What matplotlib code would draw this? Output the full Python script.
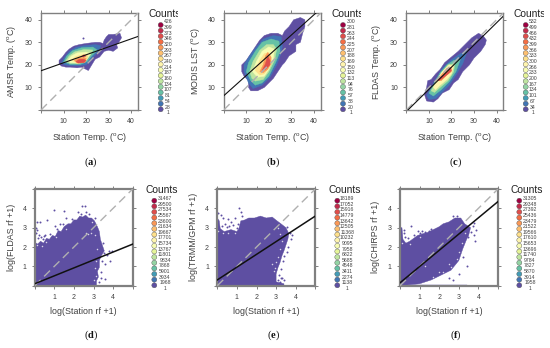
import numpy as np
import matplotlib
matplotlib.use('Agg')
import matplotlib.pyplot as plt
from matplotlib.transforms import Bbox

plt.rcParams['font.family'] = ['Liberation Sans', 'DejaVu Sans']
plt.rcParams['mathtext.fontset'] = 'custom'
plt.rcParams['mathtext.rm'] = 'Liberation Sans'
plt.rcParams['mathtext.bf'] = 'Liberation Serif:bold'

W, H = 550, 348
colors = plt.get_cmap('Spectral_r')(np.linspace(0, 1, 16))
grey = '#808080'
txt = '#404040'

# legend labels, top to bottom
counts_a = [426,399,373,346,320,293,267,240,214,187,160,134,107,81,54,28,1]
counts_b = [300,281,263,244,225,207,188,169,150,132,113,94,76,57,38,20,1]
counts_c = [532,499,466,432,399,366,333,300,266,233,200,167,134,101,67,34,1]
counts_d = [31467,29500,27534,25567,23600,21634,19667,17701,15734,13767,11801,9834,7868,5901,3934,1968,1]
counts_e = [18189,17052,15916,14779,13642,12505,11368,10232,9095,7958,6822,5685,4548,3411,2274,1138,1]
counts_f = [31305,29348,27392,25436,23479,21522,19566,17610,15653,13696,11740,9784,7827,5870,3914,1958,1]

# density outlines, outer level first: (colour level, outline)
cloud_a = [
    (0, [(8,20.5),(8,22),(9.5,23.5),(11,25.5),(12.5,27),(14.5,28.3),(17,29),(20,29.5),(24,30),(26,30),(27.5,29.5),(28,31),(29,32.5),(30,33.5),(32,33.5),(35,34),(35.7,32),(34.5,30),(33.5,29),(34,27.5),(32,26),(30,26.5),(28,26),(26,23.5),(24,22.5),(22.5,20),(21,17.5),(20,18),(18,19),(16,18.7),(13,19),(11,19),(9,19.5)]),
    (1, [(9,21),(10.5,23.5),(12.5,26),(15.5,27.8),(19,28.5),(24,29),(26.5,28.5),(25.5,26),(23.5,23.8),(21.5,21.5),(20,20),(17,19.7),(13,19.7),(10.5,20)]),
    (3, [(10,21.3),(11.5,24),(14,26.3),(18,27.6),(23,27.9),(25,26.5),(22.5,24),(20.5,21.5),(17.5,20.2),(13,20.2)]),
    (5, [(10.8,21.6),(12.5,24),(15,25.8),(19,26.8),(23,26.6),(22,24.5),(20,22),(17,20.6),(13,20.6)]),
    (7, [(11.8,22),(13.5,24),(16,25.3),(20,25.7),(22,25),(21,23.5),(19.5,21.7),(16.5,20.8),(13,21)]),
    (9, [(13.5,22.2),(15.5,23.7),(18,24.4),(20.5,24.7),(20.8,23),(19.3,21.2),(16,20.7)]),
    (11, [(14.8,22),(16.5,23),(18,23.3),(20,23),(19.5,21.2),(16,20.8)]),
    (13, [(15.5,21.5),(17,22.5),(19,22.5),(20,22),(19,21),(16.5,20.8)]),
    (13, [(18,23.8),(19,24.5),(20,24),(19,23.4)]),
]
cloud_b = [
    (0, [(8,17),(8,20),(10,22),(12,25),(14,28),(16,31),(18,33),(21,34),(24,34),(26,33),(27,35),(29,37),(31,40),(34,41),(36,40),(36,37),(35,34),(34,30),(32,29),(32,26),(29,24),(27,21),(26,20),(24,17),(22,14),(20,12),(18,10),(15,8.5),(12,8.5),(11,10),(11,13),(9,15)]),
    (1, [(9,17),(9,20),(11.5,24),(14.5,28),(17.5,31.5),(22,33),(25.5,32.5),(26,28),(25,24),(23.5,20),(20.5,14.5),(17,11),(13,9.5),(11,12)]),
    (3, [(10,17),(11,21),(14,26),(17,30),(21,31.5),(24.5,30.5),(25,26),(23,21),(20,15),(17,12),(14,11),(12,13)]),
    (5, [(11.5,17),(13,21.5),(16,26.5),(19,29),(22,29),(23.5,27),(22.5,22),(20,17),(17.5,13.5),(14,12.8),(12.5,14)]),
    (7, [(12.8,17),(14.5,21.5),(17,26),(20,28),(22.5,27),(22,23),(20,18),(18,15),(15,14.5)]),
    (9, [(14,17.5),(16,22),(18,25),(20,25.5),(21,23),(20,19),(18,16),(16,15.5)]),
    (11, [(16,17),(17.5,20),(18.5,24),(19.5,25.5),(21,23.5),(21,20.5),(19.5,18),(17.5,16.5)]),
    (13, [(17,17.5),(18.5,20.5),(19.5,24),(20.5,22),(20.5,20),(18.5,18)]),
]
cloud_c = [
    (0, [(8,7),(9,4),(12,3.5),(14,5),(16,7.5),(19,9),(21,12),(23,13.5),(25,17),(28,20),(30,23),(33,26),(35,29),(35.5,31),(34,33),(32,34),(29,32),(26,29),(23,26),(20,23.5),(17,21),(15,18),(13,16),(11,13.5),(9.5,13),(9,10)]),
    (1, [(9,6.5),(11,10),(13.5,14.5),(16,18.5),(19.5,22),(24,25),(27,26),(25,20.5),(22,15.5),(19,11),(16,8),(13,5),(10,4.7)]),
    (3, [(10,7.5),(12.5,12),(15,16.5),(18,20),(21,22),(24,22.5),(22,17),(19,12.5),(15.5,9),(12,6.2)]),
    (5, [(11,8.5),(13.5,13),(15.5,16.5),(18.5,20),(21.5,20.7),(21,17),(18.5,13),(15,10),(12.5,7.8)]),
    (8, [(12,10),(14,14),(16,17),(19,20),(21,19.5),(20,16),(18,13.5),(15,11),(13,9)]),
    (11, [(13.5,13),(15.5,15.5),(18,18.5),(20,19),(20,17),(18,15.5),(15.5,13)]),
    (13, [(14,13.5),(15.5,14.8),(17,15.8),(18.5,17),(19.5,18.8),(20,17.5),(18.5,16),(16,14),(14.5,13)]),
]
cloud_d = [(0, [(0,0),(0,2.25),(0.15,2.15),(0.3,2.3),(0.45,2.2),(0.6,2.45),(0.75,2.4),(0.9,2.6),(1.05,2.55),(1.2,2.85),(1.35,2.8),(1.5,3.05),(1.7,3.2),(1.85,3.2),(2,3.4),(2.15,3.4),(2.3,3.6),(2.45,3.55),(2.6,3.65),(2.75,3.5),(2.9,3.5),(3.05,3.35),(3.2,3.05),(3.3,2.8),(3.35,2.4),(3.45,2.1),(3.55,1.8),(3.4,1.55),(3.3,1.3),(3.3,0.95),(3.2,0.75),(3.25,0.45),(3.15,0.25),(3.15,0)])]
cloud_e = [(0, [(0,0),(0,3.5),(0.1,3.35),(0.15,2.95),(0.35,2.8),(0.7,2.9),(1,2.8),(1.1,2.95),(1.2,3.35),(1.4,3.4),(1.6,3.5),(1.9,3.5),(2.2,3.6),(2.5,3.5),(2.8,3.55),(3.05,3.35),(3.25,3.2),(3.5,3),(3.65,2.7),(3.6,2.4),(3.5,2.1),(3.4,1.8),(3.3,1.55),(3.2,1.2),(3.1,0.95),(3,0.6),(3,0.2),(3.4,0.1),(3.4,0)])]
cloud_f = [(0, [(0,0),(0,3),(0.1,3),(0.15,2.4),(0.3,2.2),(0.5,2.3),(0.7,2.45),(0.9,2.6),(1.2,2.7),(1.4,2.75),(1.7,2.9),(2,3.05),(2.2,3.2),(2.5,3.3),(2.8,3.5),(3.1,3.5),(3.3,3.2),(3.6,3),(3.5,2.6),(3.4,2.4),(3.2,1.9),(3,1.3),(2.8,1.05),(2.6,0.8),(2.3,0.65),(2,0.5),(1.6,0.3),(1,0.1),(0.5,0.05)]),
           (0, [(0,0),(3.4,0),(3.4,0.02),(0,0.02)])]

# isolated points outside the main body
stray_a = [(18.5,32)]
stray_b = []
stray_c = []
stray_d = [(0.05,3),(0.1,3.3),(0.25,3.3),(0.1,2.9),(0.05,2.7),(0.2,2.6),(0.3,2.5),(0.15,2.45),(0.4,2.4),(0.45,2.55),(0.55,2.6),(0.65,3.4),(0.8,2.65),(1,3.9),(1.5,3.85),(1.05,3.1),(1.3,3.2),(1.6,3.5),(1.15,2.95),(1.45,3.2),(1.9,3.45),(2.4,4.1),(2.55,4.1),(2.2,3.8),(2.35,3.7),(2.6,3.8),(2.75,3.7),(3.1,3.5),(3.55,1.7),(3.8,1.8),(3.95,1.8),(3.7,1.6),(3.85,1.3),(3.6,1.1),(3.4,0.7),(3.6,0.35),(3.3,0.2),(3.4,0.4),(3.45,1.3),(3.5,2.2)]
stray_e = [(0.05,3.75),(0.2,3.65),(0.3,3.5),(0.4,3.2),(0.25,3.1),(0.55,3.45),(0.7,3.3),(0.6,3.1),(0.9,3.5),(0.8,3.15),(1.1,4),(1.2,3.8),(1.25,3.6),(0.5,3.05),(1,3),(1.05,3.2),(3.75,2.4),(3.8,2.6),(3.6,2),(3.55,1.75),(3.3,0.4),(3.4,0.3),(3.1,0.3),(3.2,0.2),(3.25,0.4),(3.35,1.3),(3.15,0.55),(3.25,0.85),(3.4,1.55),(3.7,2.75),(3.55,3.05)]
stray_f = [(0.18,2.9),(0.2,2.7),(0.25,2.5),(0.55,3.1),(0.9,2.85),(1.1,2.85),(1.3,2.8),(1.5,2.85),(0.4,2.45),(0.7,2.6),(1,2.75),(1.6,2.95),(2.7,3.6),(2.9,3.6),(3.7,3.1),(3.8,3.25),(3.9,2.9),(3.75,2.6),(3.85,2.3),(3.45,2.5),(3.2,1.5),(3.4,1),(3,0.6),(2.7,0.3),(2.5,0.4),(3.6,2.8)]

# white gaps inside the body near its edge
specks_d = [(0.1,2.1),(0.35,2.05),(0.6,2.25),(1.1,2.5),(1.6,2.95),(2.6,2.75),(2.7,2.65),(2.85,2.7),(3.1,2.6),(3.2,1.9),(3.15,1.3),(3.1,0.9),(3.15,0.5),(3.05,0.3),(2.9,3.3)]
specks_e = [(0.05,2.85),(0.3,2.7),(0.55,2.75),(0.9,2.75),(3.1,3),(3.3,2.3),(3.2,1.9),(3.1,1.5),(3,1.2),(2.95,0.9),(2.9,0.75),(3.2,2.65),(2.8,1.1)]
specks_f = [(0.1,2.2),(0.5,2.15),(1,2.5),(1.3,1),(1.7,0.45),(2.2,0.7),(2.6,0.95),(2.9,1.4),(3,1.75),(3.15,2.2),(3.3,2.7),(2.5,1.1),(2,0.7)]
specks_a = []
specks_b = []
specks_c = []

# fit lines (x, y)
fit_a = ([0,43], [17.4,32.6])
fit_b = ([0,43], [6.3,44.9])
fit_c = ([0,43], [-0.7,41.6])
fit_d = ([0,5], [0.1,2.15])
fit_e = ([0,5], [0.3,3.6])
fit_f = ([0,5], [0.15,4.35])

temp_ticks = [0,10,20,30,40]
temp_ticklabels = ['','10','20','30','40']
log_ticks = [0,1,2,3,4,5]
log_ticklabels = ['','1','2','3','4','']
temp_x = r'Station Temp. ($^{\mathrm{o}}$C)'
log_x = 'log(Station rf +1)'

fig = plt.figure(figsize=(W/100, H/100), dpi=100)
key = fig.add_axes([0, 0, 1, 1])
key.set_xlim(0, W)
key.set_ylim(H, 0)
key.axis('off')

def panel(x0, y0, w, h, lim, cloud, stray, specks, fit, ticks, ticklabels, xlabel, ylabel, ylab_off, xlab_off, lw_box, lw_fit):
    ax = fig.add_axes([x0/W, 1-(y0+h)/H, w/W, h/H])
    for lev, poly in cloud:
        pts = np.array(poly)
        ax.fill(pts[:,0], pts[:,1], color=colors[lev], lw=0.3, zorder=lev+1)
    if stray:
        pts = np.array(stray)
        ax.scatter(pts[:,0], pts[:,1], s=2, color=colors[0], lw=0, zorder=1)
    if specks:
        pts = np.array(specks)
        ax.scatter(pts[:,0], pts[:,1], s=1.2, color='#d8d4e8', lw=0, zorder=2)
    ax.plot([0,lim], [0,lim], color='#b0b0b0', lw=1, dashes=(6,3.5), zorder=30)
    ax.plot(fit[0], fit[1], color='#111111', lw=lw_fit, zorder=31)
    ax.set_xlim(0, lim)
    ax.set_ylim(0, lim)
    ax.set_xticks(ticks)
    ax.set_yticks(ticks)
    ax.set_xticklabels(ticklabels)
    ax.set_yticklabels(ticklabels)
    ax.tick_params(top=True, right=True, length=2.5, width=0.7, color=grey, labelcolor=txt, labelsize=5, pad=3.5)
    for s in ax.spines.values():
        s.set_color(grey)
        s.set_linewidth(lw_box)
    ax.set_xlabel(xlabel, fontsize=6.4, color=txt, va='center')
    ax.set_ylabel(ylabel, fontsize=6.4, color=txt, va='center')
    ax.xaxis.set_label_coords(0.5, -xlab_off/h)
    ax.yaxis.set_label_coords(-ylab_off/w, 0.5)
    return ax

def counts_key(x_title, y_title, x_dot, x_lab, y_dot0, y_dot1, y_lab0, y_lab1, labels, clip_x):
    t = key.text(x_title, y_title, 'Counts', fontsize=7.4, color='#222222', ha='left', va='center')
    if clip_x is not None:
        t.set_clip_on(True)
        t.set_clip_box(Bbox([[0, 0], [clip_x, H]]))
    ys = np.linspace(y_dot0, y_dot1, 16)
    key.scatter([x_dot]*16, ys, s=13, c=colors[::-1], edgecolors='#555555', linewidths=0.3, zorder=3)
    for lab, y in zip(labels, np.linspace(y_lab0, y_lab1, 17)):
        key.text(x_lab, y, str(lab), fontsize=3.7, color=txt, ha='center', va='center')

panel(41, 13, 97, 97, 43, cloud_a, stray_a, specks_a, fit_a, temp_ticks, temp_ticklabels, temp_x, r'AMSR Temp. ($^{\mathrm{o}}$C)', 29, 27, 1.0, 0.8)
panel(223.7, 13, 97, 97, 43, cloud_b, stray_b, specks_b, fit_b, temp_ticks, temp_ticklabels, temp_x, r'MODIS LST ($^{\mathrm{o}}$C)', 28.7, 27, 1.0, 0.8)
panel(406.3, 13, 97, 97, 43, cloud_c, stray_c, specks_c, fit_c, temp_ticks, temp_ticklabels, temp_x, r'FLDAS Temp. ($^{\mathrm{o}}$C)', 29.6, 27, 1.0, 0.8)
panel(34.7, 189, 98, 96.7, 5, cloud_d, stray_d, specks_d, fit_d, log_ticks, log_ticklabels, log_x, 'log(FLDAS rf +1)', 23, 26, 1.6, 1.1)
panel(217.3, 189, 98, 96.7, 5, cloud_e, stray_e, specks_e, fit_e, log_ticks, log_ticklabels, log_x, 'log(TRMM/GPM rf +1)', 24, 26, 1.6, 1.1)
panel(400, 189, 98, 96.7, 5, cloud_f, stray_f, specks_f, fit_f, log_ticks, log_ticklabels, log_x, 'log(CHIRPS rf +1)', 24, 26, 1.6, 1.1)

counts_key(148.3, 14, 160.7, 168, 25, 109.3, 21.7, 112.7, counts_a, 178)
counts_key(331, 14, 343, 350.7, 25, 109.3, 21.7, 112.7, counts_b, 361)
counts_key(513.3, 14, 525.7, 533, 25, 109.3, 21.7, 112.7, counts_c, 543.7)
counts_key(145.7, 190, 154.3, 165, 200.7, 285.3, 198.7, 288.3, counts_d, None)
counts_key(328.3, 190, 337.3, 347.3, 200.7, 285.3, 198.7, 288.3, counts_e, None)
counts_key(510.7, 190, 519.3, 530, 200.7, 285.3, 198.7, 288.3, counts_f, None)

for x, y, letter in [(90.7,162,'a'), (273.3,162,'b'), (456,162,'c'), (90.7,335.7,'d'), (273.3,335.7,'e'), (456,335.7,'f')]:
    key.text(x, y, r'($\mathbf{%s}$)' % letter, fontsize=7.6, family='Liberation Serif', ha='center', va='center', color='#111111')

plt.savefig('out.png', dpi=100)
plt.close()
